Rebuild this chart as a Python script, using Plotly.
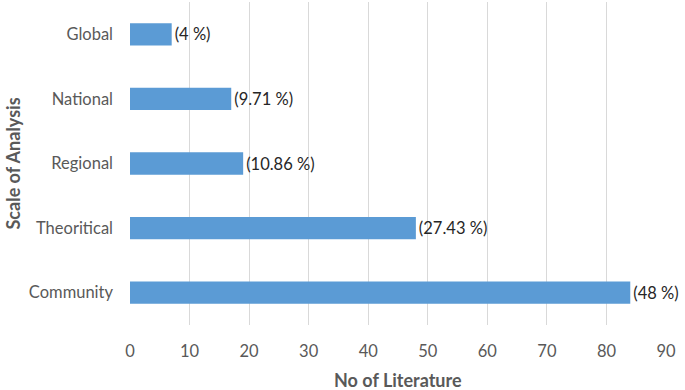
import plotly.graph_objects as go

categories = ["Community", "Theoritical", "Regional", "National", "Global"]
counts = [84, 48, 19, 17, 7]
pct_labels = ["(48 %)", "(27.43 %)", "(10.86 %)", "(9.71 %)", "(4 %)"]
x_ticks = [0, 10, 20, 30, 40, 50, 60, 70, 80, 90]

FONT = "Lato, 'Open Sans', sans-serif"

fig = go.Figure(go.Bar(
    y=categories, x=counts, orientation="h",
    marker=dict(color="#5B9BD5", line=dict(width=0)),
    width=0.345,
    text=pct_labels, textposition="outside", cliponaxis=False,
    textfont=dict(family=FONT, size=16.5, color="#262626"),
))

fig.update_layout(
    width=685, height=390,
    margin=dict(l=130, r=19, t=2, b=65),
    paper_bgcolor="white", plot_bgcolor="white",
    showlegend=False,
    font=dict(family=FONT, size=16.5, color="#595959"),
    xaxis=dict(range=[0, 90], tickvals=x_ticks, showgrid=True, gridcolor="#D9D9D9",
               gridwidth=1, zeroline=False, showline=False, ticks="",
               ticklabelstandoff=14,
               tickfont=dict(family=FONT, size=16.5, color="#595959")),
    yaxis=dict(showgrid=False, zeroline=False, showline=False, ticks="",
               ticklabelstandoff=16,
               tickfont=dict(family=FONT, size=16.5, color="#595959")),
    annotations=[
        dict(text="<b>No of Literature</b>", xref="paper", yref="paper",
             x=0.5, y=0, yshift=-55, xanchor="center", yanchor="middle",
             showarrow=False, font=dict(family=FONT, size=18, color="#595959")),
        dict(text="<b>Scale of Analysis</b>", xref="paper", yref="paper",
             x=0, xshift=-118, y=0.5, textangle=-90, xanchor="center", yanchor="middle",
             showarrow=False, font=dict(family=FONT, size=18, color="#595959")),
    ],
)

fig.write_html("out.html", config={"displayModeBar": False},
               post_script="document.body.style.margin='0';document.body.style.overflow='hidden';")
